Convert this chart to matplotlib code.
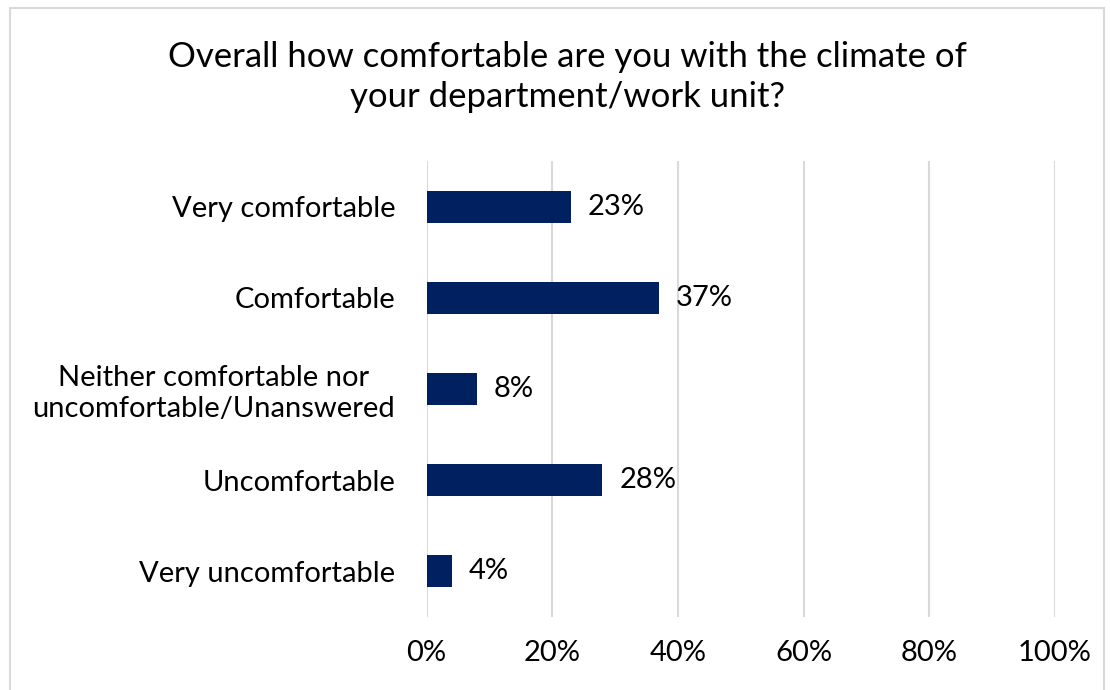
import matplotlib
matplotlib.use("Agg")
import matplotlib.pyplot as plt
from matplotlib.patches import Rectangle
from matplotlib.ticker import FuncFormatter

categories = [
    "Very comfortable",
    "Comfortable",
    "Neither comfortable nor\nuncomfortable/Unanswered",
    "Uncomfortable",
    "Very uncomfortable",
]
percent = [23, 37, 8, 28, 4]
x_ticks = [0, 20, 40, 60, 80, 100]
title = "Overall how comfortable are you with the climate of\nyour department/work unit?"

plt.rcParams["font.family"] = ["Lato", "DejaVu Sans"]

W, H = 1110, 690
fig = plt.figure(figsize=(W / 100, H / 100), dpi=100)

# light frame around the chart area
fig.patches.append(Rectangle((10 / W, -0.05), 1094 / W, 1 - 8 / H + 0.05,
                             transform=fig.transFigure, fill=False,
                             edgecolor="#D9D9D9", linewidth=1.5))

ax = fig.add_axes([426.5 / W, 1 - 617 / H, 628.5 / W, 456 / H])
ypos = list(range(len(categories)))
ax.barh(ypos, percent, height=0.35, color="#002060")
ax.set_ylim(len(categories) - 0.5, -0.5)
ax.set_xlim(0, 100)
ax.set_yticks(ypos)
ax.set_yticklabels(categories, fontsize=21, ha="right", multialignment="center",
                   linespacing=1.22)
ax.tick_params(axis="y", length=0, pad=22.5)
ax.set_xticks(x_ticks)
ax.xaxis.set_major_formatter(FuncFormatter(lambda v, p: f"{v:.0f}%"))
ax.tick_params(axis="x", length=0, labelsize=21, pad=16.5)
ax.grid(axis="x", color="#D9D9D9", linewidth=1.5)
ax.set_axisbelow(True)
for s in ax.spines.values():
    s.set_visible(False)

for y, v in zip(ypos, percent):
    ax.annotate(f"{v}%", (v, y), xytext=(12, 0), textcoords="offset points",
                va="center", ha="left", fontsize=21)

fig.text(567 / W, 1 - 77 / H, title, ha="center", va="center",
         fontsize=25, linespacing=1.32)

fig.savefig("out.png", dpi=100)
